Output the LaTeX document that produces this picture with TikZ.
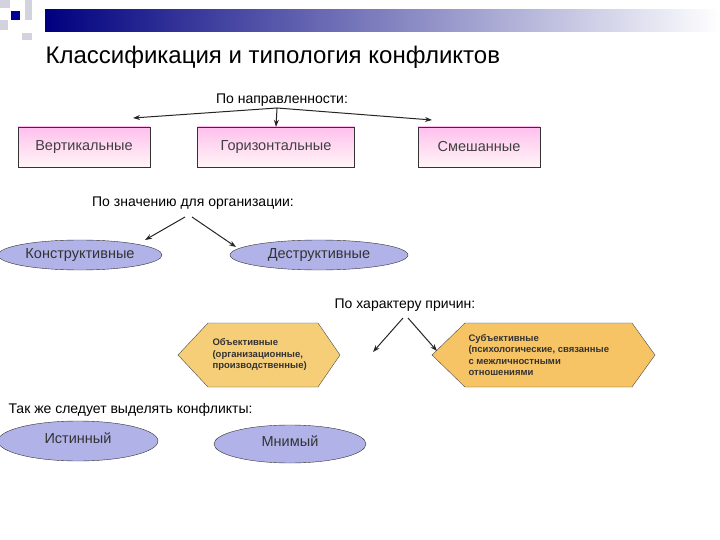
\documentclass[tikz,border=0pt]{standalone}
\usepackage{fontspec}
\setmainfont{Liberation Sans}
\usetikzlibrary{arrows.meta,shapes.geometric}
\definecolor{ellc}{RGB}{176,178,232}
\definecolor{hexa}{RGB}{246,206,120}
\definecolor{hexb}{RGB}{246,196,100}
\begin{document}
\begin{tikzpicture}[x=1pt,y=-1pt,
  lbl/.style={font=\fontsize{14}{16}\selectfont},
  rbox/.style={draw=black!80,top color=pink!60!magenta!45,bottom color=pink!15,font=\fontsize{14.5}{16}\selectfont,text=black!75,minimum height=40pt},
  ell/.style={draw=black!80,ellipse,fill=ellc,font=\fontsize{14.5}{16}\selectfont,text=black!80,inner sep=0pt},
  arr/.style={-{Stealth[length=7pt,width=5pt]},line width=1pt,black!85},
  hexbox/.style={font=\bfseries\fontsize{9.5}{11.5}\selectfont,align=left,text=black!80}]
\useasboundingbox (0,0) rectangle (720,540);
\fill[white] (0,0) rectangle (720,540);
% decoration
\shade[left color=blue!50!black,right color=white] (45,10) rectangle (720,32);
\fill[blue!15!gray!30] (0,0) rectangle (10,8);
\fill[blue!15!gray!30] (25,0) rectangle (32,20);
\fill[blue!15!gray!30] (0,20) rectangle (8,30);
\fill[blue!15!gray!30] (22,33) rectangle (32,40);
\fill[blue!60!black] (11,11) rectangle (20,20);
\node[anchor=west,font=\fontsize{24}{28}\selectfont] (title) at (42,57) {Классификация и типология конфликтов};
% level 1
\node[lbl] (l1) at (282,100) {По направленности:};
\node[rbox,minimum width=132pt] (v) at (84,147) {Вертикальные};
\node[rbox,minimum width=157pt] (g) at (276,147) {Горизонтальные};
\node[rbox,minimum width=122pt] (s) at (479,147) {Смешанные};
\coordinate (j1) at (277,108);
\coordinate (vt) at (133,118);
\coordinate (st) at (432,120);
\draw[arr] (j1) -- (vt);
\draw[arr] (j1) -- (g.north);
\draw[arr] (j1) -- (st);
% level 2
\node[lbl] (l2) at (193,203) {По значению для организации:};
\node[ell,minimum width=164pt,minimum height=30pt] (k) at (80,255) {Конструктивные};
\node[ell,minimum width=178pt,minimum height=30pt] (d) at (319,255) {Деструктивные};
\draw[arr] (185,217) -- (145,240);
\draw[arr] (192,217) -- (236,247);
% level 3
\node[lbl] (l3) at (405,305) {По характеру причин:};
\draw[draw=black!70,fill=hexa] (178,355) -- (208,323) -- (318,323) -- (340,355) -- (318,387) -- (208,387) -- cycle;
\node[hexbox,anchor=west] (ob) at (209,355) {Объективные\\(организационные,\\производственные)};
\draw[draw=black!70,fill=hexb] (432,355) -- (465,323) -- (632,323) -- (655,355) -- (632,387) -- (465,387) -- cycle;
\node[hexbox,anchor=west] (sb) at (465,355) {Субъективные\\(психологические, связанные\\с межличностными\\отношениями};
\draw[arr] (403,318) -- (373,352);
\draw[arr] (408,318) -- (437,351);
% level 4
\node[lbl,anchor=west] (l4) at (5,410) {Так же следует выделять конфликты:};
\node[ell,minimum width=160pt,minimum height=40pt] (i) at (78,441) {\raisebox{6pt}{Истинный}};
\node[ell,minimum width=152pt,minimum height=38pt] (m) at (290,444) {\raisebox{6pt}{Мнимый}};
\end{tikzpicture}
\end{document}
